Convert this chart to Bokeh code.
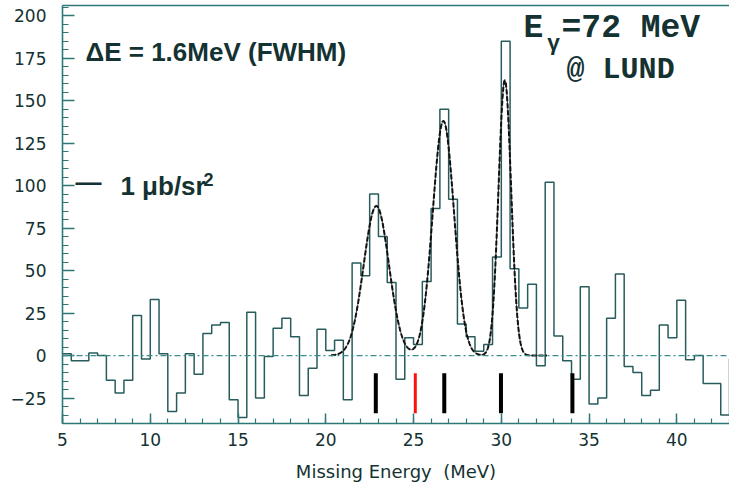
import numpy as np
from bokeh.plotting import figure
from bokeh.models import (Label, Span, LinearAxis, SingleIntervalTicker,
                          FixedTicker, Range1d)
from bokeh.embed import file_html
from bokeh.resources import INLINE

# Missing-energy spectrum: 0.5 MeV bins starting at 5 MeV (background subtracted)
bin_start = 5.0
bin_width = 0.5
counts = [
    1, -3, -3, 1.5, 0, -14.5, -22, -14.5, 23.5, -2,          # 5.0 - 9.5
    33, 1, -33, -22, 1, -11, 13, 18, 19.5, -26,              # 10.0 - 14.5
    -36.5, 25.5, -25, -0.5, 16, 22, 11, -23.5, -7.5, 15.5,   # 15.0 - 19.5
    3, 9, -26, 54.5, 47, 95, 70, 43, -14, 10.5,              # 20.0 - 24.5
    6.5, 43.5, 86.5, 145, 92, 18.5, 11, 2.5, 6.5, 58,        # 25.0 - 29.5
    185, 51, 28, 42, -6, 102, 11.5, -3, -14, 40.5,           # 30.0 - 34.5
    -28.5, -25, 22, 48, -6.5, -10, -23.5, -20.5, 18, 10.5,   # 35.0 - 39.5
    32.5, -2.5, 0, -16.5, -16.5, -35, -2,                    # 40.0 - 43.0
]

# Three-peak Gaussian fit
fit_center = [22.88, 26.70, 30.20]
fit_amp = [88.0, 138.0, 162.0]
fit_sigma = [0.72, 0.61, 0.36]
fit_from, fit_to = 20.3, 32.6

# Level positions (MeV)
levels_black = [22.85, 26.75, 29.98, 34.05]
levels_red = [25.10]
level_top, level_bottom = -10.5, -34.0

TEAL = "#2e7777"
HIST = "#285c5c"
INK = "#143232"

p = figure(width=729, height=489, output_backend="svg", toolbar_location=None,
           x_range=Range1d(5.0, 43.0), y_range=Range1d(-40, 206),
           min_border_left=62, min_border_right=0, min_border_top=5,
           min_border_bottom=66, background_fill_color="white",
           border_fill_color="white")
p.outline_line_color = None
p.xgrid.visible = False
p.ygrid.visible = False

# axes
xa = p.xaxis[0]
xa.ticker = SingleIntervalTicker(interval=5, num_minor_ticks=5)
xa.axis_label = "Missing Energy\u00a0 (MeV)"
ya = p.yaxis[0]
ya.ticker = SingleIntervalTicker(interval=25, num_minor_ticks=5)
for ax in (xa, ya):
    ax.axis_line_color = TEAL
    ax.axis_line_width = 1.6
    ax.major_tick_line_color = TEAL
    ax.minor_tick_line_color = TEAL
    ax.major_tick_line_width = 1.5
    ax.minor_tick_line_width = 1.2
    ax.major_tick_out = 0
    ax.minor_tick_out = 0
    ax.major_label_text_font = "DejaVu Sans"
    ax.major_label_text_font_size = "17px"
    ax.major_label_text_color = INK
    ax.axis_label_text_font = "DejaVu Sans"
    ax.axis_label_text_font_size = "18px"
    ax.axis_label_text_font_style = "normal"
    ax.axis_label_text_color = INK
xa.major_tick_in = 10
xa.minor_tick_in = 5
xa.major_label_standoff = 9
xa.axis_label_standoff = 12
ya.major_tick_in = 12
ya.minor_tick_in = 6
ya.major_label_standoff = 16

# top frame line
top = LinearAxis(ticker=FixedTicker(ticks=[]), axis_line_color=TEAL,
                 axis_line_width=1.6, major_tick_line_color=None,
                 minor_tick_line_color=None, major_label_standoff=0,
                 major_tick_in=0, major_tick_out=0)
p.add_layout(top, "above")

# zero line
p.add_layout(Span(location=0, dimension="width", line_color="#3a8c8c",
                  line_dash="6 3 2 3", line_width=1.3))

# histogram
edges = bin_start + bin_width * np.arange(len(counts) + 1)
p.step(x=edges, y=list(counts) + [counts[-1]], mode="after",
       line_color=HIST, line_width=1.5)

# fit curve
xf = np.linspace(fit_from, fit_to, 800)
yf = np.zeros_like(xf)
for c, a, s in zip(fit_center, fit_amp, fit_sigma):
    yf += a * np.exp(-0.5 * ((xf - c) / s) ** 2)
p.line(xf, yf, line_color="#3a3a3a", line_width=1.0)
p.line(xf, yf, line_color="#111111", line_width=2.0, line_dash="5 2")

# level markers
p.segment(x0=levels_black, y0=[level_bottom] * len(levels_black),
          x1=levels_black, y1=[level_top] * len(levels_black),
          line_color="black", line_width=4)
p.segment(x0=levels_red, y0=[level_bottom] * len(levels_red),
          x1=levels_red, y1=[level_top] * len(levels_red),
          line_color="#ff1010", line_width=3)

# annotations
def add_text(x, y, text, font, size, style="normal", color=INK):
    p.add_layout(Label(x=x, y=y, text=text, text_font=font,
                       text_font_size=size, text_font_style=style,
                       text_color=color, text_baseline="alphabetic",
                       text_align="left"))

add_text(6.31, 178.5, "\u0394E = 1.6MeV (FWHM)", "Liberation Sans", "26px", "bold")
add_text(5.74, 102.0, "\u2014", "Liberation Sans", "26px", "bold")
add_text(8.30, 99.5, "1 \u03bcb/sr", "Liberation Sans", "26px", "bold")
add_text(13.03, 103.5, "2", "Liberation Sans", "18px", "bold")
add_text(31.27, 192.5, "E", "Liberation Mono", "33px", "bold")
add_text(32.60, 183.0, "\u03b3", "Liberation Mono", "22px", "bold")
add_text(33.43, 192.5, "=72 MeV", "Liberation Mono", "33px", "bold")
add_text(33.72, 168.0, "@ LUND", "Liberation Mono", "30px", "bold")

open("out.html", "w").write(file_html(p, INLINE))
